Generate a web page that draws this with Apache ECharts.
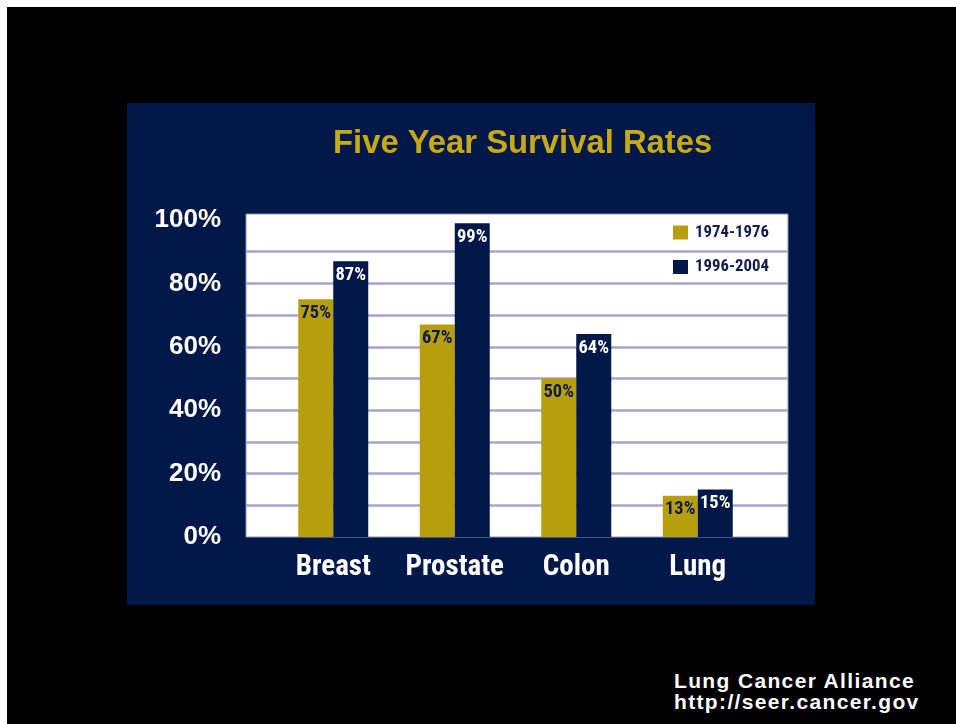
<!DOCTYPE html>
<html>
<head>
<meta charset="utf-8">
<script src="https://cdn.jsdelivr.net/npm/echarts@6/dist/echarts.min.js"></script>
<style>
  html, body { margin: 0; padding: 0; background: #ffffff; width: 956px; height: 724px; overflow: hidden; }
  #frame { position: absolute; left: 7px; top: 7px; width: 949px; height: 717px; background: #000000; }
  #chart { position: absolute; left: 127px; top: 103px; width: 688px; height: 502px; }
  #source {
    position: absolute; left: 674px; top: 670px;
    font-family: 'Liberation Sans', Arial, sans-serif; font-weight: bold;
    font-size: 21px; line-height: 21px; letter-spacing: 1.35px; color: #ffffff;
    white-space: nowrap;
  }
</style>
</head>
<body>
<div id="frame"></div>
<div id="chart"></div>
<div id="source">Lung Cancer Alliance<br>http://seer.cancer.gov</div>
<script>
// Cancer sites and their five-year relative survival (%)
const categories = ['Breast', 'Prostate', 'Colon', 'Lung'];
const periods = ['1974-1976', '1996-2004'];
const survival1974 = [75, 67, 50, 13];
const survival1996 = [87, 99, 64, 15];
const yLabelStep = 20; // labelled ticks; grid lines every 10

const NAVY = '#011849';
const GOLD = '#b79e0e';
const SANS = "'Liberation Sans', Arial, sans-serif";

// --- font helpers: prefer a condensed bold face, size text to its box ---
const ctx = document.createElement('canvas').getContext('2d');
function textWidth(text, family, size) {
  ctx.font = 'bold ' + size + 'px ' + family;
  return ctx.measureText(text).width;
}
function hasFont(name) {
  const sample = 'Breast 1974-1976 99%';
  return ['monospace', 'serif'].some(fb =>
    textWidth(sample, "'" + name + "', " + fb, 40) !== textWidth(sample, fb, 40));
}
const condensedName = ['Liberation Sans Narrow', 'Arial Narrow', 'Roboto Condensed',
  'Noto Sans Condensed', 'Noto Sans SemiCondensed', 'Liberation Sans'].find(hasFont) || 'Arial';
const NARROW = "'" + condensedName + "', " + SANS;
function fitSize(text, boxWidth, maxSize) {
  return Math.min(maxSize, boxWidth * 100 / textWidth(text, NARROW, 100));
}
const catFont = fitSize(categories[0], 78, 29);
const barFont = fitSize(survival1996[0] + '%', 30.5, 18.5);
const legendFont = fitSize(periods[0], 74, 19);

const chart = echarts.init(document.getElementById('chart'));

const barLabel = color => ({
  show: true, position: 'insideTop', distance: 5,
  formatter: p => p.value + '%',
  color: color, fontFamily: NARROW, fontWeight: 'bold', fontSize: barFont
});

chart.setOption({
  backgroundColor: NAVY,
  animation: false,
  title: {
    text: 'Five Year Survival Rates',
    left: 201,
    top: 19,
    textStyle: { color: '#c7aa12', fontFamily: SANS, fontWeight: 'bold', fontSize: 32.8 }
  },
  legend: {
    orient: 'vertical',
    left: 546,
    top: 121,
    padding: 0,
    itemWidth: 15,
    itemHeight: 14,
    itemGap: 17.5,
    icon: 'rect',
    data: periods,
    textStyle: {
      color: '#0f1c4d', fontFamily: NARROW, fontWeight: 'bold', fontSize: legendFont,
      padding: [0, 0, 0, 2]
    }
  },
  grid: [
    // white plotting panel
    { left: 119, top: 111, width: 542, height: 323, show: true,
      backgroundColor: '#ffffff', borderColor: '#8e92b4', borderWidth: 1 },
    // percentage scale with horizontal rules across the panel
    { left: 119, top: 117, width: 542, height: 317 },
    // bars
    { left: 145.5, top: 117, width: 486, height: 317 }
  ],
  xAxis: [
    { gridIndex: 0, type: 'value', show: false },
    { gridIndex: 1, type: 'value', show: false },
    {
      gridIndex: 2, type: 'category', data: categories,
      axisLine: { show: false }, axisTick: { show: false },
      axisLabel: { interval: 0, color: '#ffffff', fontFamily: NARROW, fontWeight: 'bold',
        fontSize: catFont, margin: 16 }
    }
  ],
  yAxis: [
    { gridIndex: 0, type: 'value', show: false },
    {
      gridIndex: 1, type: 'value', min: 0, max: 100, interval: 10,
      axisLine: { show: false }, axisTick: { show: false },
      axisLabel: {
        color: '#ffffff', fontFamily: SANS, fontWeight: 'bold', fontSize: 26, margin: 25,
        padding: [2, 0, 0, 0],
        formatter: v => (v % yLabelStep === 0 ? v + '%' : '')
      },
      splitLine: {
        show: true, showMinLine: false, showMaxLine: false,
        lineStyle: { color: '#a6a7c6', width: 2.5 }
      }
    },
    { gridIndex: 2, type: 'value', min: 0, max: 100, show: false }
  ],
  series: [
    {
      name: periods[0], type: 'bar', xAxisIndex: 2, yAxisIndex: 2,
      data: survival1974, barWidth: 35, barGap: '0%',
      itemStyle: { color: GOLD },
      label: barLabel('#0d1a4d')
    },
    {
      name: periods[1], type: 'bar', xAxisIndex: 2, yAxisIndex: 2,
      data: survival1996, barWidth: 35, barGap: '0%',
      itemStyle: { color: NAVY },
      label: barLabel('#ffffff')
    }
  ]
});
</script>
</body>
</html>
